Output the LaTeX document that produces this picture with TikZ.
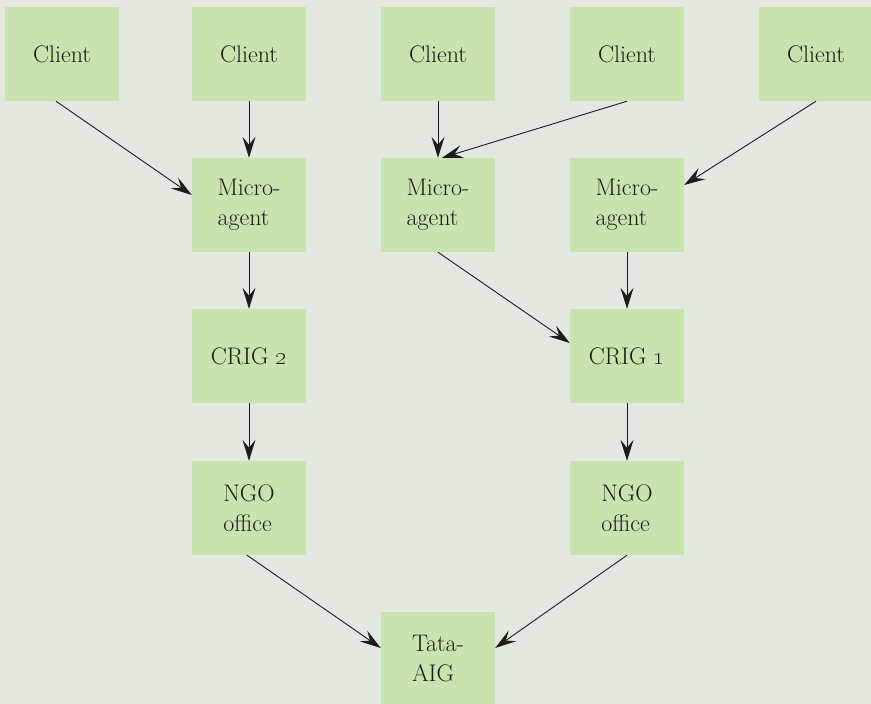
\documentclass[tikz,border=0pt]{standalone}
\usetikzlibrary{arrows.meta}

\definecolor{bgcol}{RGB}{226,231,223}
\definecolor{boxcol}{RGB}{201,227,174}
\definecolor{inkcol}{RGB}{28,28,28}

\tikzset{
  box/.style={fill=boxcol, minimum width=114pt, minimum height=94pt, inner sep=0pt,
    align=left, text=inkcol, font=\fontsize{24}{30}\selectfont},
  link/.style={draw=inkcol, line width=0.9pt,
    -{Stealth[length=21pt,width=13pt,inset=8pt]}}
}

\begin{document}
\begin{tikzpicture}[x=1pt, y=-1pt]
    \fill[bgcol] (0, 0) rectangle (871, 704);
    \useasboundingbox (0, 0) rectangle (871, 704);

    % clients
    \node[box] (c1) at (62, 54) {Client};
    \node[box] (c2) at (249, 54) {Client};
    \node[box] (c3) at (438, 54) {Client};
    \node[box] (c4) at (627, 54) {Client};
    \node[box] (c5) at (816, 54) {Client};

    % micro-agents
    \node[box] (m1) at (249, 205) {Micro-\\agent};
    \node[box] (m2) at (438, 205) {Micro-\\agent};
    \node[box] (m3) at (627, 205) {Micro-\\agent};

    \node[box] (crig2) at (249, 356) {CRIG \oldstylenums{2}};
    \node[box] (crig1) at (627, 356) {CRIG \oldstylenums{1}};

    \node[box] (ngo1) at (249, 508) {NGO\\office};
    \node[box] (ngo2) at (627, 508) {NGO\\office};

    \node[box] (tata) at (438, 659) {Tata-\\AIG};

    \draw[link] ([xshift=-6pt]c1.south) -- ([yshift=10pt]m1.west);
    \draw[link] (c2) -- (m1);
    \draw[link] (c3) -- (m2);
    \draw[link] (c4.south) -- ([xshift=4pt]m2.north);
    \draw[link] (c5.south) -- ([yshift=20pt]m3.east);

    \draw[link] (m1) -- (crig2);
    \draw[link] (m2.south) -- ([yshift=13pt]crig1.west);
    \draw[link] (m3) -- (crig1);

    \draw[link] (crig2) -- (ngo1);
    \draw[link] (crig1) -- (ngo2);

    \draw[link] ([xshift=-2pt]ngo1.south) -- ([yshift=11pt]tata.west);
    \draw[link] (ngo2.south) -- ([yshift=11pt]tata.east);
\end{tikzpicture}
\end{document}
